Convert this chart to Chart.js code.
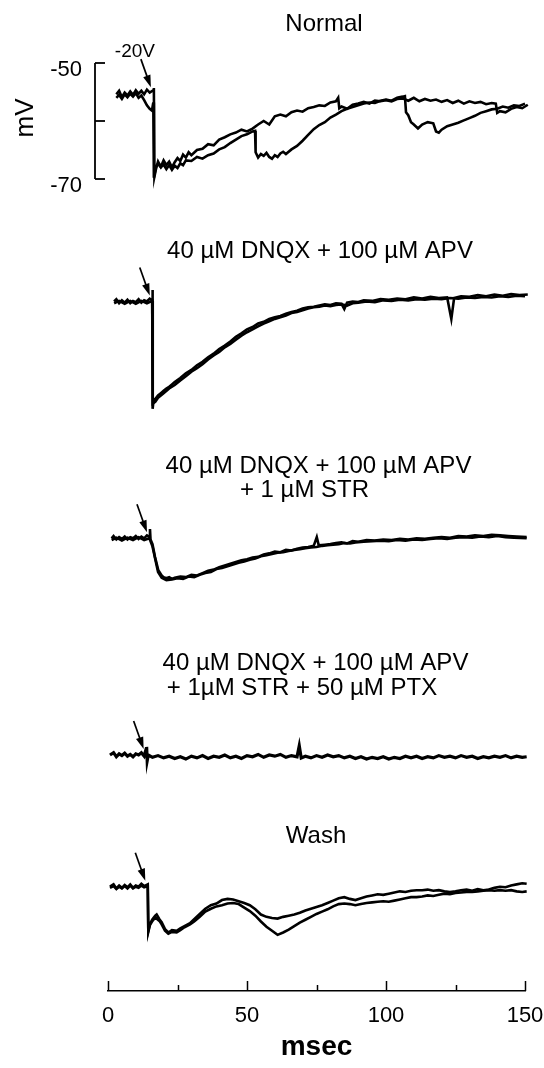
<!DOCTYPE html>
<html><head><meta charset="utf-8">
<script src="https://cdn.jsdelivr.net/npm/chart.js@4.4.0/dist/chart.umd.min.js"></script>
<style>html,body{margin:0;padding:0;background:#fff}#wrap{position:relative;width:544px;height:1068px}</style>
</head><body><div id="wrap"><canvas id="c" width="544" height="1068"></canvas></div>
<script>
// ---------------- DATA (time in msec, membrane potential in mV) ----------------
const xTickValues = [0, 25, 50, 75, 100, 125, 150];
const xTickLabels = ["0", "50", "100", "150"];
const scaleBarTicks = [-50, -60, -70];
const scaleBarLabels = ["-50", "-70"];
const panelTitles = [
  ["Normal"],
  ["40 µM DNQX + 100 µM APV"],
  ["40 µM DNQX + 100 µM APV", "+ 1 µM STR"],
  ["40 µM DNQX + 100 µM APV", "+ 1µM STR + 50 µM PTX"],
  ["Wash"]
];
const stimLabel = "-20V";
const stimTimes = [16.5, 16.1, 15.1, 13.9, 14.5];
const stimBaseline = [-55.2, -55.0, -55.0, -55.0, -55.0];

const normalA = [[3,-55.4],[4,-54.8],[5,-55.9],[6,-55.1],[7,-55.6],[8,-54.9],[9,-55.5],[10,-54.7],[11,-55.3],[12,-54.8],[13,-55.4],[14,-54.6],[15,-55.1],[16.3,-54.7],[16.5,-54.3],[16.7,-69.6],[17.3,-68.2],[18,-67.0],[19,-67.9],[20,-66.8],[21,-67.6],[22,-67.0],[23,-68.0],[24,-67.1],[25,-66.4],[26,-66.9],[27,-65.8],[28,-66.3],[29,-65.4],[30,-65.9],[32,-65.0],[34,-64.8],[36,-64.0],[38,-64.2],[40,-63.2],[42,-62.8],[44,-62.3],[46,-62.0],[48,-61.5],[50,-61.8],[52,-61.3],[54,-60.6],[56,-60.0],[58,-60.6],[60,-59.2],[62,-58.9],[64,-59.2],[66,-58.5],[68,-58.2],[70,-58.4],[72,-57.8],[74,-57.6],[76,-57.3],[78,-57.4],[80,-56.8],[82,-56.6],[82.8,-56.0],[83.2,-57.8],[84,-57.5],[86,-57.9],[88,-57.2],[90,-57.0],[92,-56.7],[94,-57.0],[96,-56.5],[98,-56.6],[100,-56.4],[102,-56.6],[104,-56.2],[106,-56.1],[108,-56.5],[110,-56.0],[112,-56.6],[114,-56.2],[116,-56.5],[118,-56.3],[120,-56.7],[122,-56.4],[124,-56.9],[126,-56.5],[128,-57.0],[130,-56.6],[132,-56.9],[134,-56.7],[136,-57.1],[138,-56.9],[139.5,-57.0],[140,-58.6],[141,-58.3],[143,-58.5],[145,-57.9],[147,-57.6],[149,-57.8],[151,-57.2],[153,-57.1]];
const normalB = [[3,-56.0],[4,-55.5],[5,-56.2],[6,-55.4],[7,-55.9],[8,-55.3],[9,-55.8],[10,-55.2],[11,-56.0],[12,-55.6],[13,-56.4],[14,-57.3],[15,-57.9],[15.8,-58.2],[16.3,-56.8],[16.5,-69.8],[17.3,-67.8],[18,-67.4],[19,-68.0],[20,-67.5],[21,-68.3],[22,-67.6],[23,-68.4],[24,-67.7],[25,-68.1],[26,-67.3],[27,-67.6],[28,-66.8],[30,-66.9],[32,-66.2],[34,-66.5],[36,-65.9],[38,-65.6],[40,-64.9],[42,-64.5],[44,-63.8],[46,-63.2],[48,-62.6],[50,-62.3],[52,-61.8],[52.9,-61.7],[53.1,-65.4],[54,-66.3],[55,-65.7],[56,-66.0],[57,-65.5],[58,-66.2],[59,-66.5],[60,-65.9],[61,-66.2],[62,-65.6],[63,-65.3],[64,-65.7],[66,-64.9],[68,-64.3],[70,-63.4],[72,-62.4],[74,-61.4],[76,-60.7],[78,-60.2],[80,-59.4],[82,-58.9],[84,-58.3],[86,-57.9],[88,-57.6],[90,-57.3],[92,-57.0],[94,-56.8],[96,-56.9],[98,-56.5],[100,-56.3],[102,-56.5],[104,-56.0],[106,-55.8],[106.8,-55.7],[107.2,-58.5],[108,-59.0],[109,-60.2],[110,-60.6],[111.5,-61.3],[113,-60.6],[115,-60.2],[117,-60.4],[118,-61.8],[119,-62.0],[120,-61.5],[122,-60.9],[124,-60.6],[126,-60.3],[128,-59.9],[130,-59.5],[132,-59.1],[134,-58.6],[136,-58.3],[138,-58.0],[140,-57.9],[142,-57.5],[144,-57.7],[146,-57.3],[148,-57.4],[150,-57.0],[152,-57.2],[153,-56.9]];

const dnqxA = [[2.2,-55.0],[3,-54.6],[4,-55.3],[5,-54.8],[6,-55.2],[7,-54.7],[8,-55.3],[9,-54.9],[10,-55.1],[11,-54.6],[12,-55.2],[13,-54.8],[14,-55.0],[15,-54.5],[15.9,-54.8],[16.0,-53.0],[16.1,-73.5],[16.4,-72.0],[17,-71.8],[18,-71.2],[19,-70.8],[20,-70.4],[21,-70.0],[22,-69.7],[23,-69.3],[24,-68.9],[26,-68.2],[28,-67.4],[30,-66.8],[32,-66.0],[34,-65.4],[36,-64.6],[38,-64.0],[40,-63.2],[42,-62.6],[44,-61.9],[46,-61.1],[48,-60.5],[50,-59.8],[52,-59.4],[54,-58.8],[56,-58.5],[58,-58.0],[60,-57.7],[62,-57.5],[64,-57.1],[66,-56.8],[68,-56.6],[70,-56.2],[72,-56.0],[74,-55.9],[76,-55.7],[78,-55.5],[80,-55.6],[82,-55.3],[84,-55.4],[85,-56.3],[86,-55.2],[88,-55.0],[90,-55.1],[92,-54.8],[95,-54.9],[98,-54.6],[101,-54.7],[104,-54.5],[107,-54.6],[110,-54.3],[113,-54.5],[116,-54.2],[119,-54.4],[122,-54.3],[123.5,-58.0],[124.5,-54.4],[127,-54.1],[130,-54.2],[133,-53.9],[136,-54.1],[139,-53.8],[142,-54.0],[145,-53.7],[148,-53.9],[151,-53.8],[152,-53.9]];
const dnqxB = [[2.2,-55.3],[4,-54.9],[6,-55.4],[8,-54.9],[10,-55.4],[12,-54.9],[14,-55.3],[15.9,-54.9],[16.1,-72.6],[17,-72.3],[18,-71.6],[20,-70.8],[22,-70.0],[24,-69.4],[26,-68.6],[28,-67.9],[30,-67.1],[32,-66.5],[34,-65.8],[36,-65.0],[38,-64.3],[40,-63.7],[42,-62.9],[44,-62.3],[46,-61.6],[48,-60.9],[50,-60.3],[52,-59.8],[54,-59.3],[56,-58.8],[58,-58.4],[60,-58.0],[62,-57.7],[64,-57.4],[66,-57.0],[68,-56.8],[70,-56.5],[72,-56.2],[74,-56.0],[76,-55.9],[78,-55.7],[80,-55.8],[82,-55.6],[84,-55.5],[86,-55.7],[88,-55.3],[90,-55.2],[93,-55.0],[96,-55.1],[99,-54.8],[102,-54.9],[105,-54.7],[108,-54.8],[111,-54.6],[114,-54.7],[117,-54.5],[120,-54.6],[123,-54.4],[126,-54.5],[129,-54.3],[132,-54.4],[135,-54.2],[138,-54.3],[141,-54.1],[144,-54.2],[147,-54.0],[150,-54.1],[152,-54.0]];

const strA = [[1.3,-55.0],[2,-54.6],[3,-55.2],[4,-54.8],[5,-55.1],[6,-54.7],[7,-55.2],[8,-54.8],[9,-55.0],[10,-54.6],[11,-55.1],[12,-54.7],[13,-55.0],[14,-54.5],[15,-54.8],[15.1,-53.4],[15.3,-55.2],[16,-56.0],[16.9,-58.2],[18.1,-60.5],[19.3,-61.4],[20,-61.7],[21,-61.9],[22,-61.7],[23,-62.0],[24,-61.8],[26,-61.6],[28,-61.7],[30,-61.3],[32,-61.4],[34,-61.0],[36,-60.6],[38,-60.4],[40,-60.0],[42,-59.7],[44,-59.4],[46,-59.1],[48,-58.8],[50,-58.6],[52,-58.3],[54,-58.2],[56,-57.8],[58,-57.6],[60,-57.3],[62,-57.4],[64,-57.0],[66,-57.1],[68,-56.8],[70,-56.6],[72,-56.5],[74,-56.3],[75.1,-54.8],[75.8,-56.2],[78,-56.1],[80,-56.0],[82,-55.8],[84,-55.7],[86,-55.9],[88,-55.5],[90,-55.6],[93,-55.3],[96,-55.4],[99,-55.2],[102,-55.3],[105,-55.1],[108,-55.2],[111,-55.0],[114,-55.1],[117,-54.9],[120,-54.8],[123,-54.9],[126,-54.6],[129,-54.7],[132,-54.5],[135,-54.6],[138,-54.4],[141,-54.5],[144,-54.6],[147,-54.7],[150.6,-54.8]];
const strB = [[1.3,-55.3],[3,-54.9],[5,-55.4],[7,-54.9],[9,-55.3],[11,-54.8],[13,-55.3],[14.9,-55.0],[15.3,-55.5],[16,-56.4],[17,-58.6],[18,-60.8],[19.3,-61.8],[21,-62.2],[23,-62.1],[25,-61.9],[27,-62.0],[29,-61.6],[31,-61.7],[33,-61.3],[35,-61.0],[37,-60.8],[39,-60.3],[41,-60.1],[43,-59.8],[45,-59.5],[47,-59.2],[49,-59.0],[51,-58.7],[53,-58.5],[55,-58.1],[57,-57.9],[59,-57.7],[61,-57.5],[63,-57.4],[65,-57.2],[67,-57.0],[69,-56.9],[71,-56.7],[73,-56.6],[75,-56.5],[77,-56.3],[79,-56.2],[81,-56.1],[83,-56.0],[85,-55.8],[87,-55.9],[89,-55.7],[92,-55.6],[95,-55.5],[98,-55.4],[101,-55.5],[104,-55.3],[107,-55.4],[110,-55.2],[113,-55.3],[116,-55.1],[119,-55.0],[122,-55.1],[125,-54.9],[128,-54.8],[131,-54.9],[134,-54.7],[137,-54.8],[140,-54.6],[143,-54.8],[146,-54.9],[150.6,-55.0]];

const ptxA = [[0.7,-55.0],[2,-54.6],[3,-55.3],[4,-54.8],[5,-55.1],[6,-54.7],[7,-55.2],[8,-54.9],[9,-55.3],[10,-54.8],[11,-55.0],[12,-54.6],[13,-55.2],[13.7,-54.0],[13.9,-53.6],[14.1,-56.0],[14.5,-55.0],[16,-55.4],[18,-55.1],[20,-55.5],[22,-55.2],[24,-55.6],[26,-55.3],[28,-55.7],[30,-55.2],[32,-55.5],[34,-55.1],[36,-55.6],[38,-55.2],[40,-55.4],[42,-55.0],[44,-55.5],[46,-55.2],[48,-55.6],[50,-55.1],[52,-55.3],[54,-54.9],[56,-55.4],[58,-55.0],[60,-55.2],[62,-54.9],[64,-55.4],[66,-55.1],[68,-55.3],[68.8,-53.4],[69.5,-55.5],[71,-55.2],[73,-55.5],[75,-55.1],[77,-55.4],[79,-55.0],[81,-55.3],[83,-55.1],[85,-55.5],[87,-55.2],[89,-55.6],[91,-55.3],[93,-55.7],[95,-55.4],[97,-55.6],[99,-55.3],[101,-55.7],[103,-55.4],[105,-55.6],[107,-55.2],[109,-55.5],[111,-55.2],[113,-55.6],[115,-55.3],[117,-55.5],[119,-55.1],[121,-55.4],[123,-55.2],[125,-55.5],[127,-55.1],[129,-55.4],[131,-55.2],[133,-55.6],[135,-55.3],[137,-55.5],[139,-55.2],[141,-55.4],[143,-55.1],[145,-55.5],[147,-55.2],[149,-55.4],[150.6,-55.3]];

const washA = [[0.7,-55.0],[2,-54.6],[3,-55.3],[4,-54.8],[5,-55.2],[6,-54.7],[7,-55.1],[8,-54.6],[9,-55.2],[10,-54.8],[11,-55.0],[12,-54.5],[13,-54.9],[14.3,-54.6],[14.5,-62.6],[15.1,-61.4],[16,-60.6],[17,-60.0],[17.5,-59.8],[18.5,-60.6],[19.3,-61.1],[20.5,-62.3],[21.7,-62.9],[23,-62.5],[24.7,-62.6],[26,-62.2],[27.5,-61.8],[29.5,-61.3],[31,-60.6],[33,-59.7],[35,-58.8],[37,-58.2],[39,-57.9],[41,-57.3],[43,-57.1],[45,-57.2],[47,-57.5],[49,-57.8],[51,-58.2],[53,-58.9],[55,-59.8],[57,-60.2],[59,-60.4],[61,-60.5],[63,-60.2],[65,-60.0],[67,-59.8],[69,-59.5],[71,-59.1],[73,-58.8],[75,-58.5],[77,-58.2],[79,-57.8],[81,-57.4],[83,-57.0],[85,-56.8],[87,-57.1],[89,-57.3],[91,-57.0],[93,-56.7],[95,-56.5],[97,-56.3],[99,-56.4],[101,-56.2],[103,-56.0],[105,-55.8],[107,-55.9],[109,-55.7],[111,-55.6],[113,-55.6],[115,-55.5],[117,-55.7],[119,-55.6],[121,-55.8],[123,-55.9],[125,-55.8],[127,-55.6],[129,-55.5],[131,-55.7],[133,-55.4],[135,-55.6],[137,-55.5],[139,-55.2],[141,-55.0],[143,-55.1],[145,-54.8],[147,-54.6],[149,-54.4],[150.6,-54.5]];
const washB = [[0.7,-55.2],[2,-54.9],[3,-55.4],[4,-55.0],[5,-55.3],[6,-54.9],[7,-55.3],[8,-54.8],[9,-55.3],[10,-55.0],[11,-55.2],[12,-54.8],[13,-55.1],[14.3,-54.9],[14.5,-62.8],[15.1,-61.6],[16,-60.9],[17,-60.3],[18.5,-60.9],[19.3,-61.5],[20.5,-62.6],[21.7,-63.1],[23,-62.8],[24.7,-62.9],[26,-62.5],[27.5,-62.0],[29.5,-61.5],[31,-61.0],[33,-60.2],[35,-59.3],[37,-58.8],[39,-58.4],[41,-58.2],[43,-57.9],[45,-57.8],[47,-58.0],[49,-58.6],[51,-59.2],[53,-60.0],[55,-61.0],[57,-61.9],[59,-62.6],[61,-63.3],[63,-62.9],[65,-62.4],[67,-61.8],[69,-61.2],[71,-60.7],[73,-60.2],[75,-59.7],[77,-59.3],[79,-58.9],[81,-58.4],[83,-58.0],[85,-57.9],[87,-58.0],[89,-58.2],[91,-58.0],[93,-57.8],[95,-57.7],[97,-57.6],[99,-57.5],[101,-57.6],[103,-57.4],[105,-57.2],[107,-57.0],[109,-56.8],[111,-56.8],[113,-56.7],[115,-56.5],[117,-56.6],[119,-56.4],[121,-56.2],[123,-56.3],[125,-56.1],[127,-56.0],[129,-55.9],[131,-55.9],[133,-55.8],[135,-55.7],[137,-55.6],[139,-55.7],[141,-55.6],[143,-55.7],[145,-55.6],[147,-55.8],[149,-55.9],[150.6,-55.8]];

// ---------------- LAYOUT ----------------
const PX_PER_MV = 5.8;            // vertical gain shared by all panels
const AREA_TOP = 0, AREA_BOTTOM = 991;
// pixel row at which a reference voltage of each panel sits
const panelAnchors = [ {v:-50, y:63}, {v:-55, y:301.5}, {v:-55, y:538.3}, {v:-55, y:755}, {v:-55, y:886.7} ];
const titlePos = [ [[324,31]], [[320,258]], [[318.5,473],[304.5,497]], [[315.5,670],[302,695]], [[316,843]] ];
const FONT = "'Liberation Sans', Arial, Helvetica, sans-serif";

const yScales = {};
panelAnchors.forEach((a, i) => {
  const max = a.v + (a.y - AREA_TOP) / PX_PER_MV;
  const min = max - (AREA_BOTTOM - AREA_TOP) / PX_PER_MV;
  yScales['y' + (i + 1)] = { type: 'linear', display: false, min: min, max: max };
});

const toXY = arr => arr.map(p => ({ x: p[0], y: p[1] }));
const traceSets = [[normalA, normalB], [dnqxA, dnqxB], [strA, strB], [ptxA], [washA, washB]];
const datasets = [];
traceSets.forEach((set, i) => set.forEach(tr => datasets.push({
  data: toXY(tr), yAxisID: 'y' + (i + 1), borderColor: '#000', borderWidth: (i === 3 ? 3.2 : 2.6),
  pointRadius: 0, tension: 0, clip: false, fill: false
})));

const decor = {
  id: 'decor',
  afterDraw(chart) {
    const ctx = chart.ctx, xs = chart.scales.x, yb = chart.chartArea.bottom;
    ctx.save();
    ctx.strokeStyle = '#000'; ctx.fillStyle = '#000'; ctx.lineWidth = 1.5;
    // inward x ticks
    xTickValues.forEach(t => {
      const px = Math.round(xs.getPixelForValue(t)) + 0.5;
      const h = (t % 50 === 0) ? 10 : 6;
      ctx.beginPath(); ctx.moveTo(px, yb); ctx.lineTo(px, yb - h); ctx.stroke();
    });
    // mV scale bar on panel 1
    const y1 = chart.scales.y1, xb = 95;
    const pTop = y1.getPixelForValue(scaleBarTicks[0]), pBot = y1.getPixelForValue(scaleBarTicks[2]);
    ctx.lineWidth = 1.8;
    ctx.beginPath(); ctx.moveTo(xb, pTop); ctx.lineTo(xb, pBot); ctx.stroke();
    scaleBarTicks.forEach(v => {
      const py = y1.getPixelForValue(v);
      ctx.beginPath(); ctx.moveTo(xb, py); ctx.lineTo(xb + 10, py); ctx.stroke();
    });
    ctx.font = '22px ' + FONT; ctx.textAlign = 'right'; ctx.textBaseline = 'alphabetic';
    ctx.fillText(scaleBarLabels[0], 82, pTop + 13);
    ctx.fillText(scaleBarLabels[1], 82, pBot + 13);
    ctx.save();
    ctx.translate(33, y1.getPixelForValue(scaleBarTicks[1]) - 3);
    ctx.rotate(-Math.PI / 2);
    ctx.font = '26px ' + FONT; ctx.textAlign = 'center';
    ctx.fillText('mV', 0, 0);
    ctx.restore();
    // panel titles
    ctx.font = '24px ' + FONT; ctx.textAlign = 'center'; ctx.textBaseline = 'alphabetic';
    panelTitles.forEach((lines, i) => lines.forEach((s, j) => ctx.fillText(s, titlePos[i][j][0], titlePos[i][j][1])));
    // stimulus arrows
    stimTimes.forEach((t, i) => {
      const ys = chart.scales['y' + (i + 1)];
      const tx = xs.getPixelForValue(t) - 3, ty = ys.getPixelForValue(stimBaseline[i]) - 6;
      const sx = tx - 10, sy = ty - 28;
      const L = Math.hypot(tx - sx, ty - sy), ux = (tx - sx) / L, uy = (ty - sy) / L;
      ctx.lineWidth = 1.7;
      ctx.beginPath(); ctx.moveTo(sx, sy); ctx.lineTo(tx - ux * 8, ty - uy * 8); ctx.stroke();
      ctx.beginPath();
      ctx.moveTo(tx, ty);
      ctx.lineTo(tx - ux * 12 - uy * 3.8, ty - uy * 12 + ux * 3.8);
      ctx.lineTo(tx - ux * 12 + uy * 3.8, ty - uy * 12 - ux * 3.8);
      ctx.closePath(); ctx.fill();
      if (i === 0) {
        ctx.font = '19px ' + FONT; ctx.textAlign = 'center';
        ctx.fillText(stimLabel, sx - 6, sy - 2);
      }
    });
    ctx.restore();
  }
};

new Chart(document.getElementById('c'), {
  type: 'line',
  data: { datasets: datasets },
  options: {
    responsive: false, animation: false, devicePixelRatio: 1,
    layout: { padding: { left: 108, right: 19, top: 0, bottom: 0 } },
    plugins: { legend: { display: false }, tooltip: { enabled: false }, title: { display: false } },
    scales: Object.assign({
      x: {
        type: 'linear', position: 'bottom', min: 0, max: 150,
        grid: { display: false, drawTicks: false },
        border: { display: true, color: '#000', width: 1.5 },
        ticks: {
          stepSize: 50, padding: 12, color: '#000', maxRotation: 0,
          font: { size: 22, family: FONT },
          callback: (v) => { const i = [0, 50, 100, 150].indexOf(v); return i >= 0 ? xTickLabels[i] : ''; }
        },
        title: { display: true, text: 'msec', color: '#000', font: { size: 28, weight: 'bold', family: FONT }, padding: { top: 0, bottom: 4 } },
        afterFit: (s) => { s.height = 77; s.paddingLeft = 0; s.paddingRight = 0; }
      }
    }, yScales)
  },
  plugins: [decor]
});
</script></body></html>
